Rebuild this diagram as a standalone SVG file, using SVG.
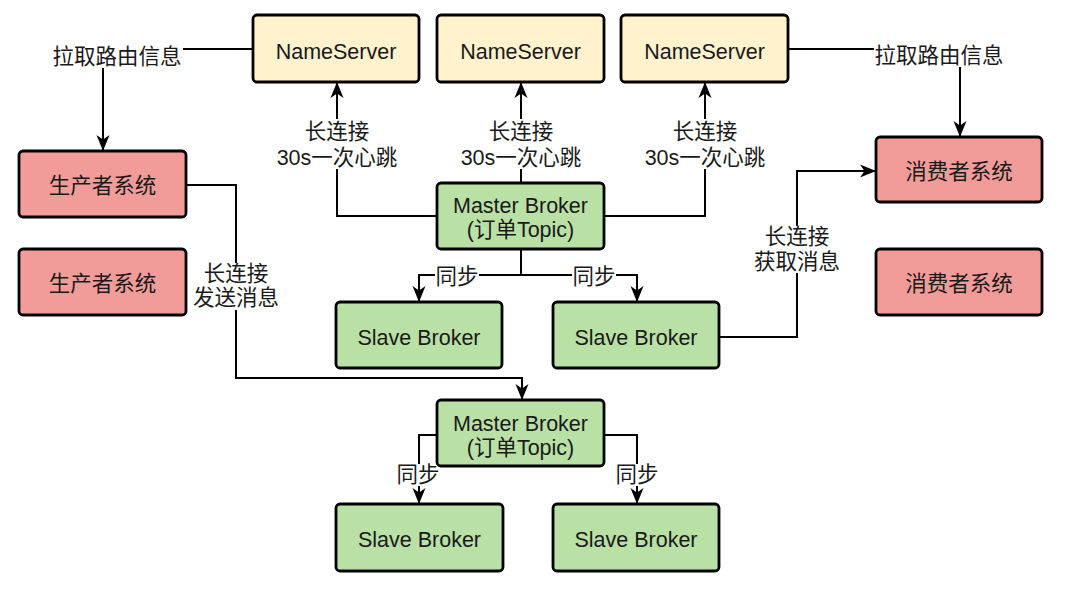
<svg xmlns="http://www.w3.org/2000/svg" width="1078" height="589" viewBox="0 0 1078 589">
<defs>
<style>
.t{font-family:"Liberation Sans","Noto Sans CJK SC",sans-serif;font-size:21.5px;fill:#1a1a1a;text-anchor:middle;dominant-baseline:central}
.ns{fill:#fff2cc;stroke:#000;stroke-width:2.8}
.sys{fill:#f19c99;stroke:#000;stroke-width:2.8}
.br{fill:#b9e0a5;stroke:#000;stroke-width:2.8}
.ln{fill:none;stroke:#000;stroke-width:2}
.bg{fill:#fff}
</style>
<marker id="arr" markerUnits="userSpaceOnUse" markerWidth="16" markerHeight="14" viewBox="0 0 16 14" refX="15" refY="7" orient="auto">
<path d="M0,0.5 L16,7 L0,13.5 L4.5,7 Z" fill="#000"/>
</marker>
</defs>
<rect width="1078" height="589" fill="#fff"/>

<g id="connectors">
<path class="ln" d="M253,49 H103 V150" marker-end="url(#arr)"/>
<path class="ln" d="M788,49 H960 V136" marker-end="url(#arr)"/>
<path class="ln" d="M437,216 H337 V83" marker-end="url(#arr)"/>
<path class="ln" d="M521,183 V83" marker-end="url(#arr)"/>
<path class="ln" d="M604,216 H705 V83" marker-end="url(#arr)"/>
<path class="ln" d="M521,249 V275 H419 V301" marker-end="url(#arr)"/>
<path class="ln" d="M521,275 H637 V301" marker-end="url(#arr)"/>
<path class="ln" d="M719,337 H797 V171 H875" marker-end="url(#arr)"/>
<path class="ln" d="M186,185 H236 V378 H522 V399" marker-end="url(#arr)"/>
<path class="ln" d="M437,435 H419 V503" marker-end="url(#arr)"/>
<path class="ln" d="M604,435 H637 V503" marker-end="url(#arr)"/>

<g id="lbl-pull-left"><rect class="bg" x="52" y="46" width="131" height="22"/><text class="t" x="117" y="57">拉取路由信息</text></g>
<g id="lbl-pull-right"><rect class="bg" x="874" y="45" width="131" height="22"/><text class="t" x="939" y="56">拉取路由信息</text></g>
<g id="lbl-hb1"><rect class="bg" x="276" y="119" width="122" height="50"/><text class="t" x="337" y="132">长连接</text><text class="t" x="337" y="158">30s一次心跳</text></g>
<g id="lbl-hb2"><rect class="bg" x="460" y="119" width="122" height="50"/><text class="t" x="521" y="132">长连接</text><text class="t" x="521" y="158">30s一次心跳</text></g>
<g id="lbl-hb3"><rect class="bg" x="644" y="119" width="122" height="50"/><text class="t" x="705" y="132">长连接</text><text class="t" x="705" y="158">30s一次心跳</text></g>
<g id="lbl-sync1"><rect class="bg" x="435" y="266" width="44" height="22"/><text class="t" x="457" y="277">同步</text></g>
<g id="lbl-sync2"><rect class="bg" x="572" y="266" width="44" height="22"/><text class="t" x="594" y="277">同步</text></g>
<g id="lbl-send"><rect class="bg" x="192" y="263" width="88" height="47"/><text class="t" x="236" y="274">长连接</text><text class="t" x="236" y="298">发送消息</text></g>
<g id="lbl-fetch"><rect class="bg" x="753" y="226" width="88" height="47"/><text class="t" x="797" y="237">长连接</text><text class="t" x="797" y="262">获取消息</text></g>
<g id="lbl-sync3"><rect class="bg" x="396" y="464" width="44" height="22"/><text class="t" x="418" y="475">同步</text></g>
<g id="lbl-sync4"><rect class="bg" x="615" y="464" width="44" height="22"/><text class="t" x="637" y="475">同步</text></g>
</g>

<g id="nameserver1"><rect class="ns" x="253" y="15" width="166" height="67" rx="4"/><text class="t" x="336" y="52">NameServer</text></g>
<g id="nameserver2"><rect class="ns" x="437" y="15" width="167" height="67" rx="4"/><text class="t" x="520.5" y="52">NameServer</text></g>
<g id="nameserver3"><rect class="ns" x="621" y="15" width="167" height="67" rx="4"/><text class="t" x="704.5" y="52">NameServer</text></g>

<g id="producer1"><rect class="sys" x="19" y="151" width="167" height="66" rx="4"/><text class="t" x="102.5" y="186">生产者系统</text></g>
<g id="producer2"><rect class="sys" x="19" y="249" width="167" height="66" rx="4"/><text class="t" x="102.5" y="284">生产者系统</text></g>
<g id="consumer1"><rect class="sys" x="876" y="137" width="166" height="65" rx="4"/><text class="t" x="959" y="172">消费者系统</text></g>
<g id="consumer2"><rect class="sys" x="876" y="249" width="166" height="66" rx="4"/><text class="t" x="959" y="284">消费者系统</text></g>

<g id="master1"><rect class="br" x="437" y="183" width="167" height="66" rx="4"/><text class="t" x="520.5" y="206">Master Broker</text><text class="t" x="520.5" y="230">(订单Topic)</text></g>
<g id="slave1"><rect class="br" x="336" y="302" width="166" height="66" rx="4"/><text class="t" x="419" y="337.5">Slave Broker</text></g>
<g id="slave2"><rect class="br" x="553" y="302" width="166" height="66" rx="4"/><text class="t" x="636" y="337.5">Slave Broker</text></g>

<g id="master2"><rect class="br" x="437" y="400" width="167" height="66" rx="4"/><text class="t" x="520.5" y="424">Master Broker</text><text class="t" x="520.5" y="448">(订单Topic)</text></g>
<g id="slave3"><rect class="br" x="336" y="504" width="167" height="67" rx="4"/><text class="t" x="419.5" y="540">Slave Broker</text></g>
<g id="slave4"><rect class="br" x="553" y="504" width="166" height="67" rx="4"/><text class="t" x="636" y="540">Slave Broker</text></g>
</svg>
